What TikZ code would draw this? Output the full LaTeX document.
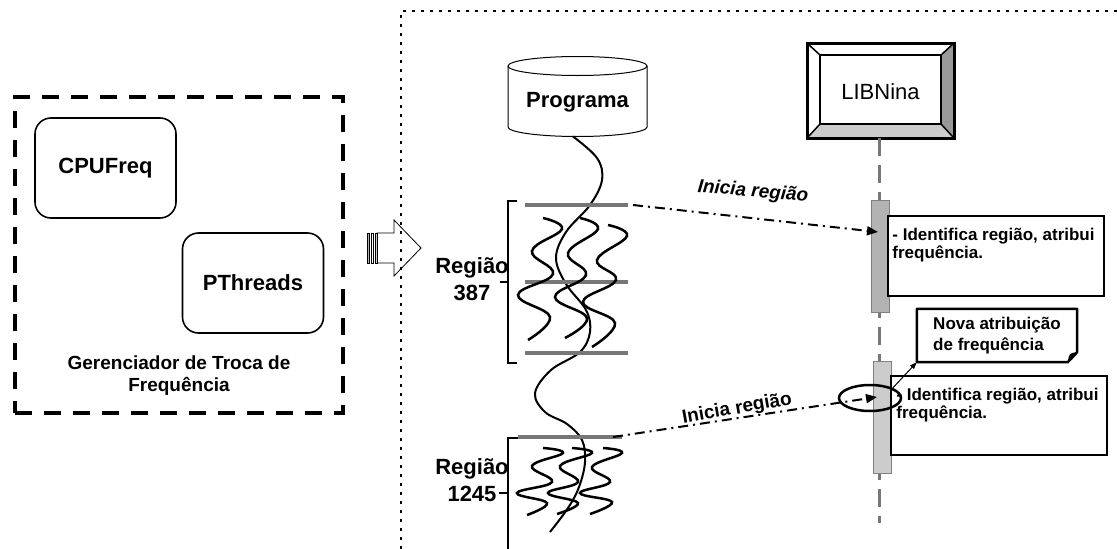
\documentclass[tikz,border=0pt]{standalone}
\usepackage{fontspec}
\setmainfont{Liberation Sans}
\usetikzlibrary{arrows.meta,shapes.geometric,calc}
\definecolor{regc}{HTML}{777777}
\definecolor{actA}{HTML}{B3B3B3}
\definecolor{actB}{HTML}{CCCCCC}
\definecolor{bevR}{HTML}{999999}
\definecolor{bevB}{HTML}{CCCCCC}
\begin{document}
\begin{tikzpicture}[x=1pt,y=-1pt,
  mgrbox/.style={draw, line width=4pt, dash pattern=on 17pt off 12pt, minimum width=328pt, minimum height=316pt, inner sep=0},
  rbox/.style={draw, rounded corners=16pt, line width=1.6pt, minimum width=141pt, minimum height=100pt, font=\bfseries\fontsize{22}{26}\selectfont},
  big/.style={font=\bfseries\fontsize{22}{27}\selectfont, align=center, inner sep=0},
  thread/.style={line width=2pt},
  wave/.style={line width=2.5pt},
  regline/.style={line width=3.5pt, draw=regc},
  brack/.style={line width=2pt},
  msg/.style={line width=2pt, dash pattern=on 10pt off 5pt on 2pt off 5pt, -{Triangle[length=11pt,width=9pt]}},
  msglab/.style={font=\bfseries\fontsize{19}{21}\selectfont, inner sep=0},
  lifeline/.style={line width=3pt, draw=regc, dash pattern=on 18pt off 9pt},
  actbar/.style={draw=gray, line width=1pt, minimum width=18pt, minimum height=112pt, inner sep=0},
  notebox/.style={draw, line width=1.5pt, fill=white, minimum width=216pt, minimum height=80pt, inner sep=0},
  notetext/.style={font=\bfseries\fontsize{17}{16}\selectfont, align=left, anchor=north west, inner sep=0},
  dotline/.style={line width=2.6pt, line cap=butt, dash pattern=on 2.6pt off 6.4pt}
]
\useasboundingbox (0,0) rectangle (1117,549);

% ---------- left: manager ----------
\node[mgrbox] (mgr) at (179,255) {};
\node[rbox] (cpu) at (105.5,168) {CPUFreq};
\node[rbox] (pth) at (253,283) {PThreads};
\node[font=\bfseries\fontsize{19}{22}\selectfont, align=center, inner sep=0] (mgrlab) at (179,376) {Gerenciador de Troca de\\Frequência};

% ---------- hollow arrow ----------
\draw[line width=0.8pt] (377,233) -- (394,233) -- (394,220) -- (421,248) -- (394,276) -- (394,263) -- (377,263) -- cycle;
\draw[line width=0.8pt, fill=gray!60] (367,233) rectangle (369.5,263);
\draw[line width=0.8pt, fill=white] (371,233) rectangle (373.5,263);
\draw[line width=0.8pt, fill=gray!40] (375,233) rectangle (377,263);

% ---------- dotted frame ----------
\coordinate (fb) at (401,549);
\coordinate (ftl) at (401,11);
\coordinate (ftr) at (1117,11);
\draw[dotline] (fb) -- (ftl) -- (ftr);

% ---------- Programa cylinder ----------
\draw[line width=1pt, fill=white] (508,66) -- (508,127) arc[start angle=180, end angle=360, x radius=69.5pt, y radius=9.5pt] -- (647,66);
\draw[line width=1pt] (577.5,66) ellipse[x radius=69.5pt, y radius=9.5pt];
\node[big] (prog) at (577.5,102) {Programa};
\coordinate (progb) at (573,136.5);

% main thread
\draw[thread] plot[smooth, tension=0.6] coordinates {(progb) (597,158) (602,180) (590,205) (566,232) (556,258) (566,284) (586,310) (590,332) (580,352) (551,370) (535,393) (545,412) (567,424) (582,440) (585,462) (579,487) (568,508) (550,532)};

% region 387
\coordinate (r1t) at (628,205);
\coordinate (r1m) at (628,282);
\coordinate (r1b) at (628,353);
\draw[regline] (525,205) -- (r1t);
\draw[regline] (525,282) -- (r1m);
\draw[regline] (525,353) -- (r1b);
\draw[wave] plot[smooth, tension=0.7] coordinates {(543,218) (562,229) (532,251) (553,274) (518,295) (550,317) (528,340)};
\draw[wave] plot[smooth, tension=0.7] coordinates {(580,218) (598,229) (568,253) (586,275) (555,297) (587,318) (565,338)};
\draw[wave] plot[smooth, tension=0.7] coordinates {(608,225) (627,236) (597,260) (616,280) (583,302) (615,323) (592,347)};
\draw[brack] (517,201) -- (508,201) -- (508,363) -- (517,363);
\draw[brack] (508,282) -- (500,282);
\node[big] (reg1) at (472,279) {Região\\387};

% region 1245
\coordinate (r2t) at (622,437);
\draw[regline] (518,437) -- (r2t);
\draw[wave] plot[smooth, tension=0.7] coordinates {(543,448) (563,453) (532,466) (552,482) (517,493) (547,503) (527,515)};
\draw[wave] plot[smooth, tension=0.7] coordinates {(572,448) (592,453) (560,466) (578,482) (548,493) (578,503) (557,514)};
\draw[wave] plot[smooth, tension=0.7] coordinates {(603,448) (622,453) (592,467) (610,482) (580,493) (612,502) (590,514)};
\draw[brack] (518,438) -- (508,438) -- (508,549);
\draw[brack] (508,493) -- (499,493);
\node[big] (reg2) at (472,480) {Região\\1245};

% ---------- LIBNina ----------
\node[draw, line width=2.5pt, minimum width=145pt, minimum height=93pt, inner sep=0] (lib) at (880.5,90.5) {};
\fill[bevR] (953,44) -- (941,55) -- (941,124) -- (953,137) -- cycle;
\fill[bevB] (808,137) -- (820,124) -- (941,124) -- (953,137) -- cycle;
\draw[line width=2.5pt] (lib.north west) rectangle (lib.south east);
\draw[line width=2.2pt] (820,55) rectangle (941,124);
\draw[line width=1.5pt] (808,44) -- (820,55) (953,44) -- (941,55) (808,137) -- (820,124) (953,137) -- (941,124);
\node[font=\fontsize{22}{26}\selectfont, inner sep=0] (libt) at (880.5,92) {LIBNina};

% lifeline
\coordinate (lifeend) at (879.5,523);
\draw[lifeline] (879.5,138) -- (lifeend);

% activation bars and notes
\node[actbar, fill=actA] (act1) at (880,256) {};
\node[actbar, fill=actB] (act2) at (882,417) {};
\node[notebox] (note1) at (996,256) {};
\node[notetext] (note1t) at ($(note1.north west)+(5,13)$) {- Identifica região, atribui\\frequência.};
\node[notebox, minimum height=79pt] (note2) at (999,415.5) {};
\node[notetext] (note2t) at ($(note2.north west)+(6,13)$) {- Identifica região, atribui\\frequência.};

% Nova atribuicao note
\node[font=\bfseries\fontsize{17}{21}\selectfont, align=left, minimum width=160pt, minimum height=53pt, inner sep=0] (nova) at (997,335.5) {Nova atribuição\\de frequência};
\draw[line width=2.5pt, line join=round] (nova.north west) -- (nova.north east) -- ($(nova.south east)+(0,-10)$) -- ($(nova.south west)+(151,0)$) -- (nova.south west) -- cycle;
\fill ($(nova.south east)+(0,-10)$) .. controls ($(nova.south east)+(-8,-9)$) .. ($(nova.south west)+(151,0)$) -- cycle;

% messages
\coordinate (a1s) at (633,205);
\coordinate (a1e) at (878,232);
\draw[msg] (a1s) -- (a1e);
\node[msglab, font=\bfseries\itshape\fontsize{19}{21}\selectfont, rotate=-5] (lab1) at (753,192) {Inicia região};

\coordinate (a2s) at (613,437);
\coordinate (a2e) at (877,397);
\draw[msg] (a2s) -- (a2e);
\node[msglab, rotate=10] (lab2) at (737,409) {Inicia região};

\node[draw, ellipse, line width=2.5pt, minimum width=62pt, minimum height=26pt, inner sep=0] (ell) at (870,398) {};
\draw[line width=1pt, -{Triangle[length=7pt,width=5pt]}] (ell.north east) -- (nova.south west);
\end{tikzpicture}
\end{document}
